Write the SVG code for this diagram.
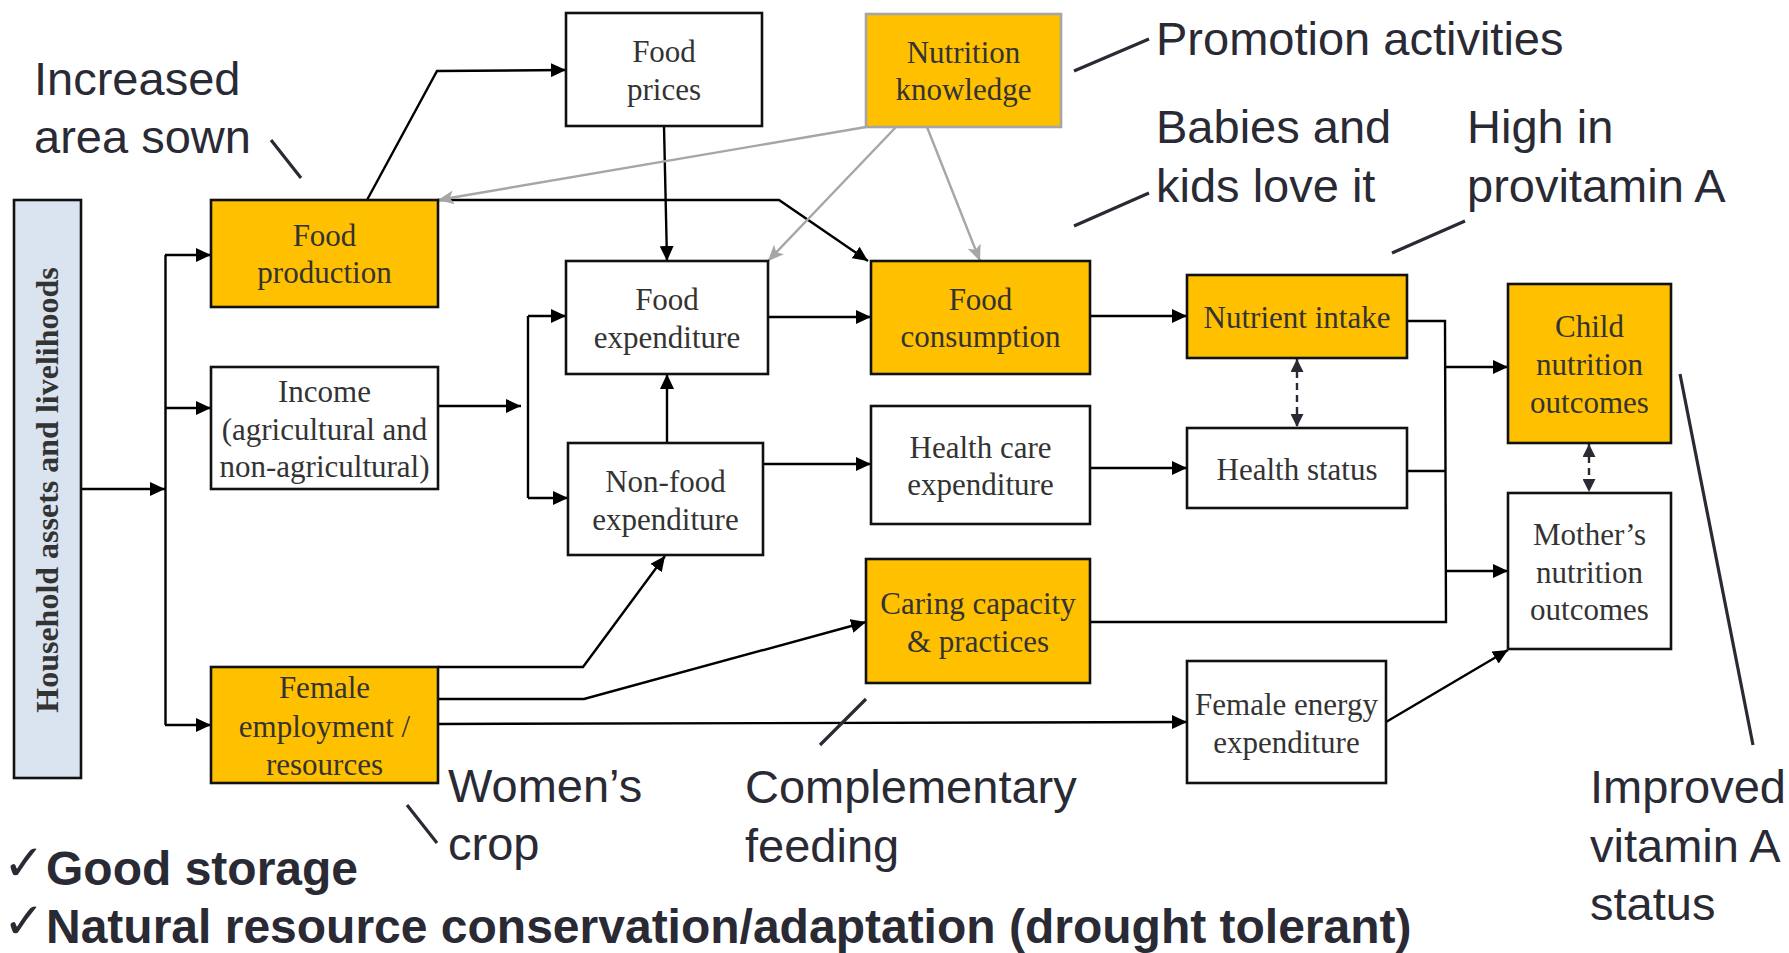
<svg xmlns="http://www.w3.org/2000/svg" width="1789" height="953" viewBox="0 0 1789 953">
<defs>
<style>
.box{fill:#fff;stroke:#111;stroke-width:2.6}
.yel{fill:#FFC000;stroke:#111;stroke-width:2.6}
.bt{font-family:"Liberation Serif","Times New Roman",serif;font-size:31px;fill:#333;text-anchor:middle}
.c{fill:none;stroke:#000;stroke-width:2.4}
.g{fill:none;stroke:#a6a6a6;stroke-width:2.4}
.d{fill:none;stroke:#2a2a35;stroke-width:2.4;stroke-dasharray:7 5}
.ld{fill:none;stroke:#2a2a35;stroke-width:3.2}
.ct{font-family:"Liberation Sans",Arial,sans-serif;font-size:47px;fill:#2a2a35}
.bold{font-weight:bold;font-size:48px}
.chk{font-family:"DejaVu Sans",sans-serif;font-weight:normal;font-size:50px;fill:#2a2a35}
</style>
<marker id="a" markerUnits="userSpaceOnUse" markerWidth="16" markerHeight="14" refX="15" refY="7" orient="auto"><path d="M0,0 L15,7 L0,14 z" fill="#000"/></marker>
<marker id="ag" markerUnits="userSpaceOnUse" markerWidth="17" markerHeight="14" refX="16" refY="7" orient="auto"><path d="M0,0 L16,7 L0,14 L4,7 z" fill="#a6a6a6"/></marker>
<marker id="ad" markerUnits="userSpaceOnUse" markerWidth="14" markerHeight="13" refX="13" refY="6.5" orient="auto-start-reverse"><path d="M0,0 L13,6.5 L0,13 z" fill="#2a2a35"/></marker>
</defs>
<rect width="1789" height="953" fill="#fff"/>

<g id="connectors">
<polyline class="c" points="81,489 165,489" marker-end="url(#a)"/>
<line class="c" x1="165.5" y1="255" x2="165.5" y2="725"/>
<polyline class="c" points="165,255 211,255" marker-end="url(#a)"/>
<polyline class="c" points="165,408 211,408" marker-end="url(#a)"/>
<polyline class="c" points="165,725 211,725" marker-end="url(#a)"/>
<polyline class="c" points="367,200 437,71 566,70" marker-end="url(#a)"/>
<polyline class="c" points="438,200 779,200 868,261" marker-end="url(#a)"/>
<polyline class="c" points="438,406 521,406" marker-end="url(#a)"/>
<line class="c" x1="528" y1="316" x2="528" y2="498"/>
<polyline class="c" points="528,316 566,316" marker-end="url(#a)"/>
<polyline class="c" points="528,498 568,498" marker-end="url(#a)"/>
<polyline class="c" points="664,126 667,261" marker-end="url(#a)"/>
<polyline class="c" points="667,443 667,374" marker-end="url(#a)"/>
<polyline class="c" points="768,317 871,317" marker-end="url(#a)"/>
<polyline class="c" points="763,464 871,464" marker-end="url(#a)"/>
<polyline class="c" points="1090,316 1187,316" marker-end="url(#a)"/>
<polyline class="c" points="1090,468 1187,468" marker-end="url(#a)"/>
<polyline class="c" points="1407,321 1445,321 1446,622 1090,622"/>
<polyline class="c" points="1407,471 1445,471"/>
<polyline class="c" points="1445,367 1508,367" marker-end="url(#a)"/>
<polyline class="c" points="1445,571 1508,571" marker-end="url(#a)"/>
<polyline class="c" points="438,667 583,667 665,556" marker-end="url(#a)"/>
<polyline class="c" points="438,699 584,699 866,622" marker-end="url(#a)"/>
<polyline class="c" points="438,724 1187,722" marker-end="url(#a)"/>
<polyline class="c" points="1386,722 1508,650" marker-end="url(#a)"/>
<line class="d" x1="1297" y1="359" x2="1297" y2="427" marker-start="url(#ad)" marker-end="url(#ad)"/>
<line class="d" x1="1589" y1="444" x2="1589" y2="492" marker-start="url(#ad)" marker-end="url(#ad)"/>
<polyline class="g" points="866,127 438,200" marker-end="url(#ag)"/>
<polyline class="g" points="896,127 768,261" marker-end="url(#ag)"/>
<polyline class="g" points="927,127 980,261" marker-end="url(#ag)"/>
</g>

<g id="household">
<rect x="14" y="200" width="67" height="578" fill="#DAE3F0" stroke="#111" stroke-width="2.6"/>
<text transform="translate(58,490) rotate(-90)" text-anchor="middle" font-family="Liberation Serif,'Times New Roman',serif" font-weight="bold" font-size="32" fill="#333">Household assets and livelihoods</text>
</g>
<g id="food-production">
<rect class="yel" x="211" y="200" width="227" height="107"/>
<text class="bt" x="324.5" y="246">Food</text><text class="bt" x="324.5" y="283">production</text>
</g>
<g id="income">
<rect class="box" x="211" y="367" width="227" height="122"/>
<text class="bt" x="324.5" y="402">Income</text><text class="bt" x="324.5" y="440">(agricultural and</text><text class="bt" x="324.5" y="477">non-agricultural)</text>
</g>
<g id="female-employment">
<rect class="yel" x="211" y="667" width="227" height="116"/>
<text class="bt" x="324.5" y="698">Female</text><text class="bt" x="324.5" y="737">employment /</text><text class="bt" x="324.5" y="775">resources</text>
</g>
<g id="food-prices">
<rect class="box" x="566" y="13" width="196" height="113"/>
<text class="bt" x="664" y="62">Food</text><text class="bt" x="664" y="100">prices</text>
</g>
<g id="nutrition-knowledge">
<rect x="866" y="14" width="195" height="113" fill="#FFC000" stroke="#a6a6a6" stroke-width="2.6"/>
<text class="bt" x="963.5" y="63">Nutrition</text><text class="bt" x="963.5" y="100">knowledge</text>
</g>
<g id="food-expenditure">
<rect class="box" x="566" y="261" width="202" height="113"/>
<text class="bt" x="667" y="310">Food</text><text class="bt" x="667" y="348">expenditure</text>
</g>
<g id="non-food-expenditure">
<rect class="box" x="568" y="443" width="195" height="112"/>
<text class="bt" x="665.5" y="492">Non-food</text><text class="bt" x="665.5" y="530">expenditure</text>
</g>
<g id="food-consumption">
<rect class="yel" x="871" y="261" width="219" height="113"/>
<text class="bt" x="980.5" y="310">Food</text><text class="bt" x="980.5" y="347">consumption</text>
</g>
<g id="health-care-expenditure">
<rect class="box" x="871" y="406" width="219" height="118"/>
<text class="bt" x="980.5" y="458">Health care</text><text class="bt" x="980.5" y="495">expenditure</text>
</g>
<g id="caring-capacity">
<rect class="yel" x="866" y="559" width="224" height="124"/>
<text class="bt" x="978" y="614">Caring capacity</text><text class="bt" x="978" y="652">&amp; practices</text>
</g>
<g id="nutrient-intake">
<rect class="yel" x="1187" y="275" width="220" height="83"/>
<text class="bt" x="1297" y="328">Nutrient intake</text>
</g>
<g id="health-status">
<rect class="box" x="1187" y="428" width="220" height="80"/>
<text class="bt" x="1297" y="480">Health status</text>
</g>
<g id="female-energy-expenditure">
<rect class="box" x="1187" y="661" width="199" height="122"/>
<text class="bt" x="1286.5" y="715">Female energy</text><text class="bt" x="1286.5" y="753">expenditure</text>
</g>
<g id="child-nutrition-outcomes">
<rect class="yel" x="1508" y="284" width="163" height="159"/>
<text class="bt" x="1589.5" y="337">Child</text><text class="bt" x="1589.5" y="375">nutrition</text><text class="bt" x="1589.5" y="413">outcomes</text>
</g>
<g id="mothers-nutrition-outcomes">
<rect class="box" x="1508" y="493" width="163" height="156"/>
<text class="bt" x="1589.5" y="545">Mother’s</text><text class="bt" x="1589.5" y="583">nutrition</text><text class="bt" x="1589.5" y="620">outcomes</text>
</g>

<g id="callouts">
<line class="ld" x1="271" y1="140" x2="301" y2="178"/>
<line class="ld" x1="1074" y1="71" x2="1149" y2="39"/>
<line class="ld" x1="1074" y1="226" x2="1149" y2="193"/>
<line class="ld" x1="1392" y1="253" x2="1465" y2="221"/>
<line class="ld" x1="1680" y1="374" x2="1753" y2="745"/>
<line class="ld" x1="866" y1="699" x2="820" y2="745"/>
<line class="ld" x1="407" y1="805" x2="437" y2="843"/>
<text class="ct" x="34" y="95">Increased</text>
<text class="ct" x="34" y="153">area sown</text>
<text class="ct" x="1156" y="55">Promotion activities</text>
<text class="ct" x="1156" y="143">Babies and</text>
<text class="ct" x="1156" y="202">kids love it</text>
<text class="ct" x="1467" y="143">High in</text>
<text class="ct" x="1467" y="202">provitamin A</text>
<text class="ct" x="448" y="802">Women’s</text>
<text class="ct" x="448" y="860">crop</text>
<text class="ct" x="745" y="803">Complementary</text>
<text class="ct" x="745" y="862">feeding</text>
<text class="ct" x="1590" y="803">Improved</text>
<text class="ct" x="1590" y="862">vitamin A</text>
<text class="ct" x="1590" y="920">status</text>
<text class="chk" x="3" y="880">✓</text>
<text class="ct bold" x="46" y="885">Good storage</text>
<text class="chk" x="3" y="938">✓</text>
<text class="ct bold" x="46" y="943">Natural resource conservation/adaptation (drought tolerant)</text>
</g>
</svg>
